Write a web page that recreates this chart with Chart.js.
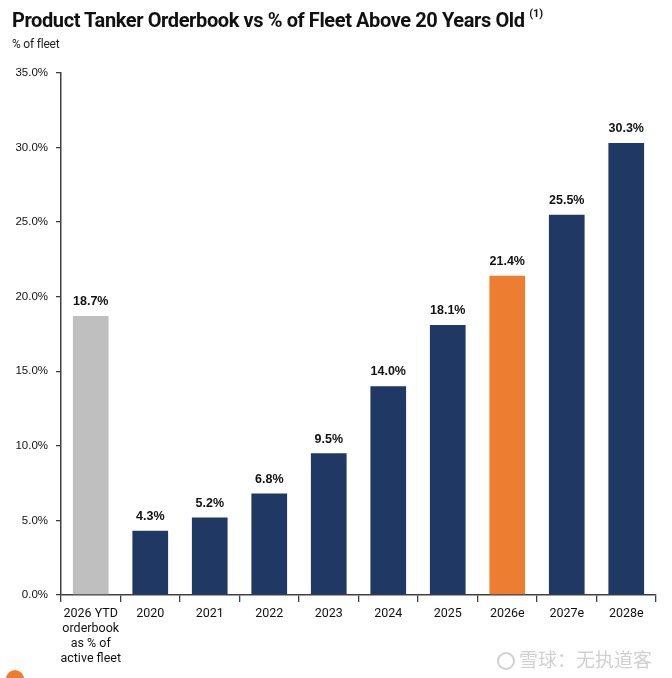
<!DOCTYPE html>
<html>
<head>
<meta charset="utf-8">
<script src="https://cdn.jsdelivr.net/npm/chart.js@4.4.0/dist/chart.umd.min.js"></script>
<style>
  html, body { margin:0; padding:0; background:#fff; }
  #wrap { position:relative; width:672px; height:678px; overflow:hidden; }
  #title { position:absolute; left:12px; top:8px; font-family:Roboto, "DejaVu Sans", sans-serif; font-weight:700; font-size:20px; color:#111; letter-spacing:-0.4px; white-space:nowrap; }
  #title sup { font-size:11px; vertical-align:top; position:relative; top:-1px; letter-spacing:0; }
  #sub { position:absolute; left:12px; top:37px; font-family:Roboto, sans-serif; font-size:12px; color:#222; letter-spacing:-0.2px; }
  #wm { position:absolute; right:20px; top:645px; font-family:"Noto Sans CJK SC", sans-serif; font-size:19px; color:#d0d0d0; white-space:nowrap; }
  #wm span.ic { display:inline-block; width:18px; height:18px; border:2px solid #d0d0d0; border-radius:50%; vertical-align:-3px; margin-right:4px; box-sizing:border-box; }
  #logo { position:absolute; left:6px; top:670px; width:18px; height:18px; border-radius:50%; background:#ed7d31; }
  canvas { position:absolute; left:0; top:0; }
</style>
</head>
<body>
<div id="wrap">
  <canvas id="chart" width="672" height="678"></canvas>
  <div id="title">Product Tanker Orderbook vs % of Fleet Above 20 Years Old <sup>(1)</sup></div>
  <div id="sub">% of fleet</div>
  <div id="wm"><span class="ic"></span>雪球：无执道客</div>
  <div id="logo"></div>
</div>
<script>
  const categories = [['2026 YTD','orderbook','as % of','active fleet'],'2020','2021','2022','2023','2024','2025','2026e','2027e','2028e'];
  const values = [18.7, 4.3, 5.2, 6.8, 9.5, 14.0, 18.1, 21.4, 25.5, 30.3];
  const barColors = ['#bfbfbf','#203864','#203864','#203864','#203864','#203864','#203864','#ed7d31','#203864','#203864'];
  const yTicks = [0, 5, 10, 15, 20, 25, 30, 35];

  // value labels above the bars
  const valueLabels = {
    id: 'valueLabels',
    afterDatasetsDraw(chart){
      const ctx = chart.ctx;
      const meta = chart.getDatasetMeta(0);
      ctx.save();
      ctx.font = 'bold 12.5px "Liberation Sans", Arial, sans-serif';
      ctx.fillStyle = '#111';
      ctx.textAlign = 'center';
      ctx.textBaseline = 'bottom';
      meta.data.forEach((bar, i)=>{
        ctx.fillText(values[i].toFixed(1) + '%', bar.x, bar.y - 8);
      });
      ctx.restore();
    }
  };

  new Chart(document.getElementById('chart').getContext('2d'), {
    type: 'bar',
    data: {
      labels: categories,
      datasets: [{ data: values, backgroundColor: barColors, barPercentage: 0.6, categoryPercentage: 1.0 }]
    },
    options: {
      responsive: false,
      animation: false,
      layout: { padding: { top: 73, right: 16, left: 0, bottom: 0 } },
      plugins: { legend: { display:false }, tooltip: { enabled:false } },
      scales: {
        x: {
          offset: true,
          grid: { drawOnChartArea:false, offset:true, tickLength:7, color:'#404040', lineWidth:1.3 },
          border: { color:'#404040', width:1.5 },
          ticks: { color:'#111', font: { family:'"Liberation Sans Narrow", Roboto, sans-serif', size:12.5 }, padding:4, maxRotation:0, autoSkip:false },
          afterFit(scale){ scale.height = 678 - 595; }
        },
        y: {
          min: 0, max: 35,
          afterBuildTicks(scale){ scale.ticks = yTicks.map(v=>({ value:v })); },
          grid: { drawOnChartArea:false, tickLength:5, color:'#404040', lineWidth:1.3 },
          border: { color:'#404040', width:1.5 },
          ticks: { color:'#111', font: { family:'"Liberation Sans", Arial, sans-serif', size:11.5 }, padding:8, callback: v => v.toFixed(1) + '%' },
          afterFit(scale){ scale.width = 61; }
        }
      }
    },
    plugins: [valueLabels]
  });
</script>
</body>
</html>
